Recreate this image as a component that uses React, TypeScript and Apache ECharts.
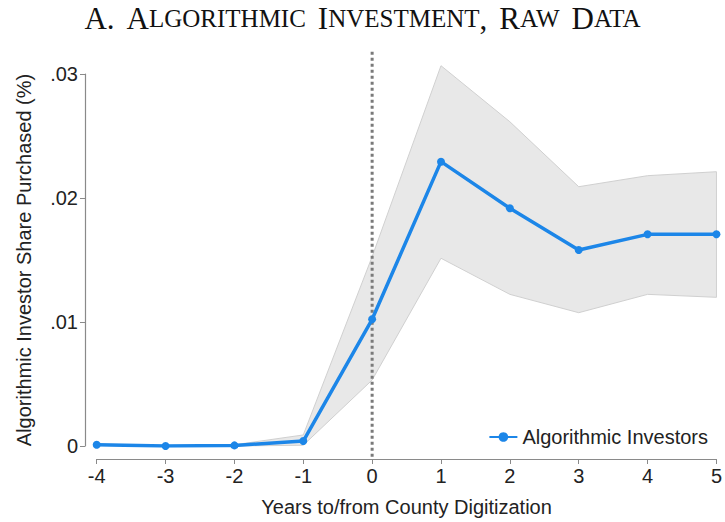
import React, { useEffect, useRef } from "react";
import * as echarts from "echarts";

const years = [-4, -3, -2, -1, 0, 1, 2, 3, 4, 5];
const share = [0.0001, 0.0, 0.00005, 0.0004, 0.01022, 0.02293, 0.01917, 0.01581, 0.01707, 0.01707];
const lower = [0.00005, -0.00003, 0.0, 0.00006, 0.00532, 0.01514, 0.01223, 0.01075, 0.01223, 0.01199];
const upper = [0.00016, 0.00004, 0.0001, 0.00089, 0.01527, 0.03067, 0.02615, 0.02091, 0.0218, 0.02212];
const yTicks = [0, 0.01, 0.02, 0.03];
const yTickLabels = ["0", ".01", ".02", ".03"];
const eventYear = 0;
const eventLineSpan = [0.0318, -0.00105];

const SANS = "'Liberation Sans', Arial, sans-serif";
const SERIF = "'Liberation Serif', 'Times New Roman', serif";

export default function App() {
  const ref = useRef<HTMLDivElement>(null);
  useEffect(() => {
    if (!ref.current) return;
    const chart = echarts.init(ref.current, null, { renderer: "svg" });
    const lineData = years.map((x, i) => [x, share[i]]);
    chart.setOption({
      animation: false,
      backgroundColor: "#ffffff",
      title: {
        left: "center",
        top: 3,
        padding: 0,
        text: "{b|A.}{g| }{b|A}{s|LGORITHMIC}{g| }{b|I}{s|NVESTMENT}{b|,}{g| }{b|R}{s|AW}{g| }{b|D}{s|ATA}",
        textStyle: {
          rich: {
            b: { fontFamily: SERIF, fontSize: 31, lineHeight: 30, color: "#111", fontWeight: "normal" },
            s: { fontFamily: SERIF, fontSize: 25, lineHeight: 30, color: "#111", fontWeight: "normal" },
            g: { fontFamily: SERIF, fontSize: 25, lineHeight: 30, width: 12 },
          },
        },
      },
      grid: { left: 96.7, right: 5.5, top: 74, bottom: 76, containLabel: false },
      legend: {
        right: 12,
        top: 422,
        itemWidth: 28,
        itemHeight: 12,
        itemGap: 10,
        textStyle: { fontFamily: SANS, fontSize: 20, color: "#222" },
        data: ["Algorithmic Investors"],
      },
      xAxis: {
        type: "value",
        min: -4,
        max: 5,
        interval: 1,
        offset: 13,
        name: "Years to/from County Digitization",
        nameLocation: "middle",
        nameGap: 38,
        nameTextStyle: { fontFamily: SANS, fontSize: 20, color: "#222" },
        axisLine: { show: true, onZero: false, lineStyle: { color: "#8a8a8a", width: 1.2 } },
        axisTick: { show: true, length: 5, lineStyle: { color: "#8a8a8a" } },
        axisLabel: { fontFamily: SANS, fontSize: 20, color: "#222", margin: 7 },
        splitLine: { show: false },
      },
      yAxis: {
        type: "value",
        min: 0,
        max: 0.03,
        interval: 0.01,
        offset: 11.7,
        name: "Algorithmic Investor Share Purchased (%)",
        nameLocation: "middle",
        nameGap: 51,
        nameTextStyle: { fontFamily: SANS, fontSize: 20, color: "#222" },
        axisLine: { show: true, onZero: false, lineStyle: { color: "#8a8a8a", width: 1.2 } },
        axisTick: { show: true, length: 5, lineStyle: { color: "#8a8a8a" } },
        axisLabel: {
          fontFamily: SANS,
          fontSize: 20,
          color: "#222",
          margin: 7,
          formatter: (v: number) => {
            const idx = yTicks.findIndex((t) => Math.abs(t - v) < 1e-9);
            return idx >= 0 ? yTickLabels[idx] : "";
          },
        },
        splitLine: { show: false },
      },
      series: [
        {
          name: "ciBand",
          type: "custom",
          silent: true,
          clip: false,
          z: 1,
          data: [0],
          renderItem: (params: any, api: any) => {
            const top = years.map((x, i) => api.coord([x, upper[i]]));
            const bot = years.map((x, i) => api.coord([x, lower[i]])).reverse();
            return {
              type: "polygon",
              shape: { points: top.concat(bot) },
              style: { fill: "#e8e8e8", stroke: "#d0d0d0", lineWidth: 1 },
            };
          },
        },
        {
          name: "eventLine",
          type: "line",
          data: eventLineSpan.map((y) => [eventYear, y]),
          symbol: "none",
          silent: true,
          clip: false,
          lineStyle: { color: "#7a7a7a", width: 3, type: [3, 3] },
          z: 2,
        },
        {
          name: "Algorithmic Investors",
          type: "line",
          data: lineData,
          symbol: "circle",
          symbolSize: 8,
          itemStyle: { color: "#1c86e8" },
          lineStyle: { color: "#1c86e8", width: 3.5 },
          z: 3,
        },
      ],
    });
    return () => chart.dispose();
  }, []);
  return <div ref={ref} style={{ width: 725, height: 522, position: "absolute", left: 0, top: 0 }} />;
}
